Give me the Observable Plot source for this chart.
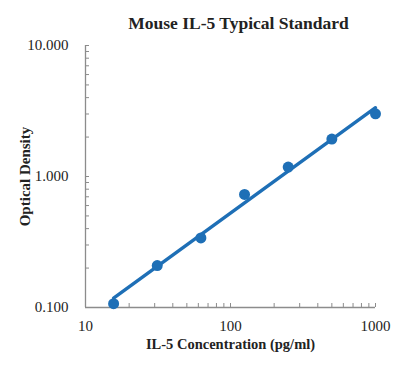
<!DOCTYPE html>
<html><head><meta charset="utf-8">
<script src="https://cdn.jsdelivr.net/npm/d3@7"></script>
<script src="https://cdn.jsdelivr.net/npm/@observablehq/plot@0.6"></script>
<style>body{margin:0;background:#fff} svg, svg text{font-family:"Liberation Serif","Times New Roman",serif !important}</style>
</head><body><div id="chart"></div>
<script>
const concentration = [15.625, 31.25, 62.5, 125, 250, 500, 1000];
const od = [0.107, 0.209, 0.340, 0.730, 1.18, 1.93, 3.01];
const fitX = [15.625, 1000];
const fitY = [0.118, 3.35];
const xMajor = [10, 100, 1000];
const xMinor = [10,20,30,40,50,60,70,80,90,100,200,300,400,500,600,700,800,900,1000];
const yMajor = [0.1, 1, 10];
const yMinor = [0.1,0.2,0.3,0.4,0.5,0.6,0.7,0.8,0.9,1,2,3,4,5,6,7,8,9,10];
const title = "Mouse IL-5 Typical Standard";
const xLabel = "IL-5 Concentration (pg/ml)";
const yLabel = "Optical Density";

const pts = concentration.map((c, i) => ({c, od: od[i]}));
const fit = fitX.map((c, i) => ({c, od: fitY[i]}));
const blue = "#1e6fb6";
const gray = "#8c8c8c";
const serif = '"Liberation Serif", "Times New Roman", serif';

const chart = Plot.plot({
  width: 401, height: 383,
  marginLeft: 85, marginRight: 26, marginTop: 45, marginBottom: 76,
  style: {fontFamily: serif, fontSize: "15px", color: "#222", background: "#fff"},
  x: {type: "log", domain: [10, 1000], label: null},
  y: {type: "log", domain: [0.1, 10], label: null},
  marks: [
    Plot.axisY({ticks: yMinor, tickSize: -4, tickFormat: () => "", stroke: gray, strokeOpacity: 1, label: null}),
    Plot.axisY({ticks: yMajor, tickSize: 0, tickPadding: 17, tickFormat: d => d.toFixed(3), fontSize: 15, fontFamily: serif, label: null}),
    Plot.axisX({ticks: xMinor, tickSize: -4, tickFormat: () => "", stroke: gray, strokeOpacity: 1, label: null}),
    Plot.axisX({ticks: xMajor, tickSize: 0, tickPadding: 13, tickFormat: d => String(d), fontSize: 15, fontFamily: serif, label: null}),
    Plot.ruleX([10], {stroke: gray, strokeWidth: 1.3}),
    Plot.ruleY([0.1], {stroke: gray, strokeWidth: 1.3}),
    Plot.line(fit, {x: "c", y: "od", stroke: blue, strokeWidth: 3.4}),
    Plot.dot(pts, {x: "c", y: "od", fill: blue, r: 5.5}),
    Plot.text([title], {frameAnchor: "top", dy: -29, dx: 8, fontWeight: "bold", fontSize: 17.5, fontFamily: serif}),
    Plot.text([xLabel], {frameAnchor: "bottom", dy: 41, fontWeight: "bold", fontSize: 14.5, fontFamily: serif}),
    Plot.text([yLabel], {frameAnchor: "left", textAnchor: "middle", dx: -60, rotate: -90, fontWeight: "bold", fontSize: 15, fontFamily: serif})
  ]
});
document.getElementById("chart").appendChild(chart);
</script></body></html>
